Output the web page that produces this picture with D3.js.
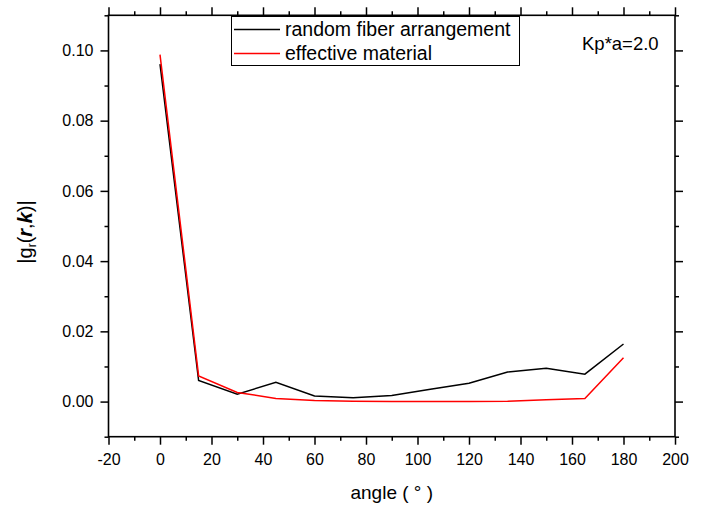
<!DOCTYPE html>
<html><head><meta charset="utf-8">
<script src="https://cdn.jsdelivr.net/npm/d3@7"></script>
<style>body{margin:0;background:#fff}svg{display:block;font-family:"Liberation Sans",Arial,sans-serif}</style>
</head><body><svg id="c" width="702" height="508"></svg>
<script>
const angles = [0,15,30,45,60,75,90,105,120,135,150,165,180];
const randomFiber = [0.0961,0.0060,0.0021,0.0055,0.0016,0.0011,0.0017,0.0035,0.0052,0.0084,0.0095,0.0078,0.0164];
const effective = [0.0988,0.0073,0.0026,0.0009,0.0003,0.0001,0.0000,0.0000,0.0000,0.0001,0.0005,0.0009,0.0125];
const xTicks = [-20,0,20,40,60,80,100,120,140,160,180,200];
const yTicks = [0.00,0.02,0.04,0.06,0.08,0.10];
const seriesNames = ["random fiber arrangement","effective material"];
const annotation = "Kp*a=2.0";

const svg = d3.select("#c");
const L=108.5, R=675, T=15.3, B=436.7;
const x = d3.scaleLinear().domain([-20,200]).range([L,R]);
const y = d3.scaleLinear().domain([-0.01,0.11]).range([B,T]);
const xMinor = d3.range(-10,200,20);
const yMinor = [-0.01,0.01,0.03,0.05,0.07,0.09,0.11];

const g = svg.append("g");
g.append("g").attr("transform",`translate(0,${B})`)
  .call(d3.axisBottom(x).tickValues(xTicks).tickSize(8).tickSizeOuter(0).tickFormat(d=>String(d)))
  .call(s=>s.selectAll("text").attr("font-size",16).attr("y",17));
g.append("g").attr("transform",`translate(0,${B})`)
  .call(d3.axisBottom(x).tickValues(xMinor).tickSize(4).tickSizeOuter(0).tickFormat(""));
g.append("g").attr("transform",`translate(0,${T})`)
  .call(d3.axisTop(x).tickValues(xTicks).tickSize(8).tickSizeOuter(0).tickFormat(""));
g.append("g").attr("transform",`translate(0,${T})`)
  .call(d3.axisTop(x).tickValues(xMinor).tickSize(4).tickSizeOuter(0).tickFormat(""));
g.append("g").attr("transform",`translate(${L},0)`)
  .call(d3.axisLeft(y).tickValues(yTicks).tickSize(8).tickSizeOuter(0).tickFormat(d3.format(".2f")))
  .call(s=>s.selectAll("text").attr("font-size",16).attr("x",-15));
g.append("g").attr("transform",`translate(${L},0)`)
  .call(d3.axisLeft(y).tickValues(yMinor).tickSize(4).tickSizeOuter(0).tickFormat(""));
g.append("g").attr("transform",`translate(${R},0)`)
  .call(d3.axisRight(y).tickValues(yTicks).tickSize(8).tickSizeOuter(0).tickFormat(""));
g.append("g").attr("transform",`translate(${R},0)`)
  .call(d3.axisRight(y).tickValues(yMinor).tickSize(4).tickSizeOuter(0).tickFormat(""));
g.selectAll(".domain").remove();
g.selectAll(".tick line").attr("stroke","#000").attr("stroke-width",1.5);
g.selectAll(".tick text").attr("fill","#000").attr("font-family",'"Liberation Sans",Arial,sans-serif');
svg.append("rect").attr("x",L).attr("y",T).attr("width",R-L).attr("height",B-T)
  .attr("fill","none").attr("stroke","#000").attr("stroke-width",1.6);

const line = d3.line().x((d,i)=>x(angles[i])).y(d=>y(d));
svg.append("path").datum(randomFiber).attr("d",line).attr("fill","none").attr("stroke","#000").attr("stroke-width",1.5);
svg.append("path").datum(effective).attr("d",line).attr("fill","none").attr("stroke","#ff0000").attr("stroke-width",1.5);

const lg = svg.append("g");
lg.append("rect").attr("x",231.5).attr("y",16.5).attr("width",288).attr("height",49)
  .attr("fill","#fff").attr("stroke","#000").attr("stroke-width",1);
const colors=["#000","#ff0000"];
seriesNames.forEach((n,i)=>{
  const yy = 29.5 + i*24;
  lg.append("line").attr("x1",234).attr("x2",280).attr("y1",yy).attr("y2",yy).attr("stroke",colors[i]).attr("stroke-width",1.5);
  lg.append("text").attr("x",285).attr("y",yy+6.5).attr("font-size",19.5).text(n);
});
svg.append("text").attr("x",582).attr("y",50).attr("font-size",18.5).text(annotation);

svg.append("text").attr("x",(L+R)/2).attr("y",499).attr("text-anchor","middle").attr("font-size",19)
  .text("angle ( \u00B0 )");
const yl = svg.append("text").attr("transform","translate(32,232) rotate(-90)").attr("text-anchor","middle").attr("font-size",20);
yl.append("tspan").text("|g");
yl.append("tspan").attr("font-size",12).attr("dy",4).text("r");
yl.append("tspan").attr("dy",-4).text("(");
yl.append("tspan").attr("font-weight","bold").attr("font-style","italic").text("r");
yl.append("tspan").text(",");
yl.append("tspan").attr("font-weight","bold").attr("font-style","italic").text("k");
yl.append("tspan").text(")|");
</script></body></html>
